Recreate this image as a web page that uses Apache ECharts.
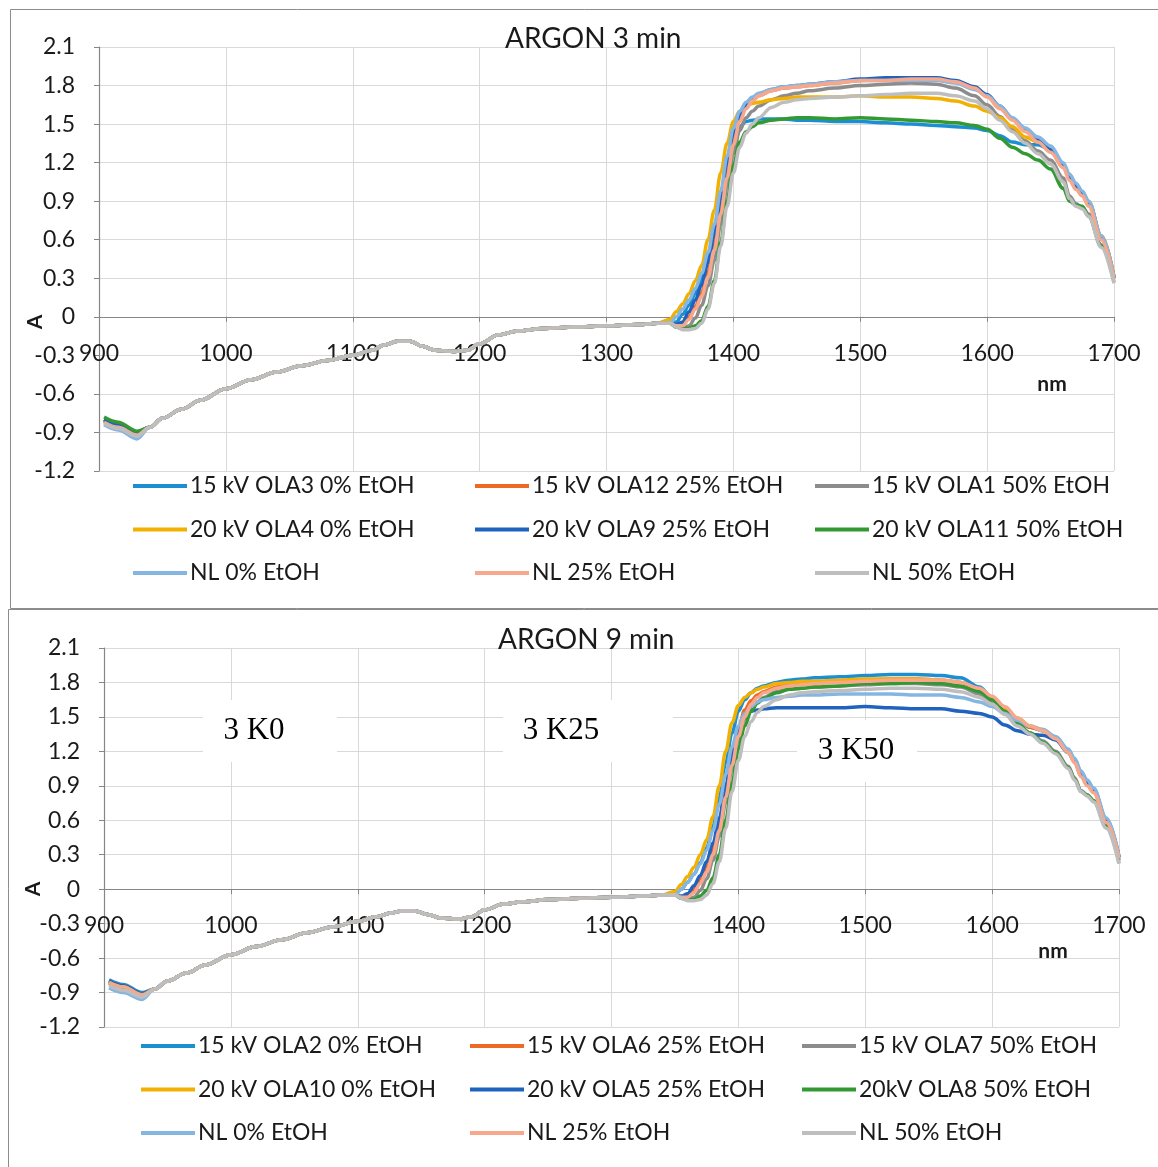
<!DOCTYPE html>
<html>
<head>
<meta charset="utf-8">
<script src="https://cdn.jsdelivr.net/npm/echarts/dist/echarts.min.js"></script>
<style>
  html, body { margin: 0; padding: 0; background: #fff; width: 1158px; height: 1167px; overflow: hidden; }
  #argon3 { position: absolute; left: 0; top: 0; width: 1158px; height: 609px; }
  #argon9 { position: absolute; left: 0; top: 609px; width: 1158px; height: 558px; }
</style>
</head>
<body>
<div id="argon3"></div>
<div id="argon9"></div>
<script>
// Wavelength grid (nm): start of scan, shared baseline, absorption edge and band
const nmHead = [904, 915, 930];
const nmBase = [940, 950, 965, 980, 1000, 1020, 1040, 1060, 1080, 1100, 1115, 1125, 1135, 1145,
  1155, 1165, 1180, 1190, 1200, 1215, 1230, 1250, 1275, 1300, 1325, 1340];
const nmTail = [1350, 1355, 1360, 1365, 1370, 1375, 1380, 1385, 1390, 1395, 1400, 1405, 1410, 1415,
  1420, 1430, 1440, 1450, 1460, 1480, 1500, 1520, 1540, 1560, 1575, 1590, 1600, 1610, 1620, 1630,
  1640, 1650, 1660, 1665, 1670, 1675, 1680, 1690, 1700];

const seriesColors = ['#1b8fd2', '#ee6a24', '#8c8c8c', '#f2b000', '#1f63be', '#339933', '#85b6e2', '#f7a88c', '#bebebe'];

const xTicks = { min: 900, max: 1700, step: 100 };
const yTicks = { min: -1.2, max: 2.1, step: 0.3 };

// ---------- ARGON 3 min ----------
const names3 = ['15 kV OLA3 0% EtOH', '15 kV OLA12 25% EtOH', '15 kV OLA1 50% EtOH',
  '20 kV OLA4 0% EtOH', '20 kV OLA9 25% EtOH', '20 kV OLA11 50% EtOH',
  'NL 0% EtOH', 'NL 25% EtOH', 'NL 50% EtOH'];
const head3 = [
  [-0.80, -0.84, -0.90], [-0.81, -0.85, -0.91], [-0.80, -0.85, -0.91],
  [-0.81, -0.85, -0.91], [-0.80, -0.84, -0.90], [-0.78, -0.82, -0.89],
  [-0.84, -0.88, -0.95], [-0.82, -0.86, -0.92], [-0.83, -0.87, -0.93]];
const base3 = [-0.86, -0.79, -0.72, -0.65, -0.56, -0.49, -0.43, -0.38, -0.34, -0.30, -0.26, -0.22, -0.19, -0.19,
  -0.23, -0.26, -0.27, -0.26, -0.21, -0.14, -0.11, -0.09, -0.08, -0.07, -0.06, -0.05];
const tail3_OLA3 = [-0.05, -0.04, 0.02, 0.09, 0.18, 0.30, 0.45, 0.66, 0.92, 1.18, 1.38, 1.48, 1.52, 1.53,
  1.54, 1.54, 1.54, 1.53, 1.53, 1.52, 1.52, 1.51, 1.50, 1.49, 1.48, 1.47, 1.45, 1.41, 1.36, 1.34,
  1.34, 1.30, 1.17, 1.08, 1.02, 0.97, 0.89, 0.62, 0.30];
const tail3_OLA12 = [-0.05, -0.07, -0.06, 0.00, 0.08, 0.19, 0.35, 0.56, 0.85, 1.13, 1.38, 1.54, 1.63, 1.68,
  1.72, 1.76, 1.78, 1.79, 1.80, 1.82, 1.84, 1.85, 1.85, 1.85, 1.83, 1.78, 1.72, 1.63, 1.54, 1.45,
  1.38, 1.30, 1.17, 1.08, 1.02, 0.97, 0.89, 0.63, 0.31];
const tail3_OLA1 = [-0.05, -0.08, -0.09, -0.07, -0.01, 0.09, 0.24, 0.44, 0.72, 1.01, 1.27, 1.45, 1.55, 1.60,
  1.64, 1.69, 1.72, 1.74, 1.76, 1.78, 1.80, 1.81, 1.82, 1.81, 1.78, 1.72, 1.65, 1.56, 1.46, 1.37,
  1.29, 1.22, 1.08, 0.94, 0.88, 0.85, 0.80, 0.56, 0.27];
const tail3_OLA4 = [-0.02, 0.04, 0.10, 0.18, 0.28, 0.40, 0.60, 0.83, 1.12, 1.35, 1.52, 1.60, 1.64, 1.66,
  1.67, 1.69, 1.70, 1.71, 1.71, 1.71, 1.72, 1.71, 1.71, 1.70, 1.68, 1.64, 1.60, 1.55, 1.48, 1.40,
  1.36, 1.30, 1.17, 1.08, 1.02, 0.97, 0.90, 0.63, 0.31];
const tail3_OLA9 = [-0.05, -0.06, -0.04, 0.04, 0.13, 0.25, 0.42, 0.64, 0.92, 1.20, 1.43, 1.57, 1.65, 1.70,
  1.73, 1.77, 1.79, 1.80, 1.81, 1.83, 1.85, 1.86, 1.86, 1.86, 1.84, 1.79, 1.73, 1.64, 1.54, 1.45,
  1.38, 1.30, 1.17, 1.08, 1.02, 0.97, 0.89, 0.62, 0.30];
const tail3_OLA11 = [-0.05, -0.08, -0.09, -0.09, -0.07, -0.03, 0.08, 0.28, 0.58, 0.90, 1.18, 1.36, 1.44, 1.48,
  1.51, 1.53, 1.54, 1.55, 1.55, 1.54, 1.55, 1.54, 1.53, 1.52, 1.51, 1.49, 1.46, 1.39, 1.32, 1.27,
  1.22, 1.15, 1.00, 0.90, 0.87, 0.86, 0.78, 0.55, 0.31];
const tail3_NL0 = [-0.05, 0.00, 0.06, 0.13, 0.22, 0.34, 0.50, 0.72, 0.98, 1.25, 1.47, 1.60, 1.67, 1.71,
  1.74, 1.77, 1.79, 1.80, 1.81, 1.83, 1.84, 1.84, 1.84, 1.84, 1.82, 1.77, 1.72, 1.64, 1.55, 1.47,
  1.40, 1.33, 1.20, 1.11, 1.04, 0.98, 0.90, 0.63, 0.31];
const tail3_NL25 = [-0.05, -0.07, -0.07, -0.02, 0.06, 0.16, 0.31, 0.52, 0.80, 1.08, 1.34, 1.52, 1.62, 1.68,
  1.72, 1.76, 1.78, 1.79, 1.80, 1.82, 1.84, 1.84, 1.85, 1.85, 1.83, 1.78, 1.71, 1.62, 1.53, 1.44,
  1.36, 1.28, 1.16, 1.06, 0.99, 0.94, 0.86, 0.60, 0.29];
const tail3_NL50 = [-0.05, -0.08, -0.10, -0.10, -0.09, -0.05, 0.06, 0.26, 0.55, 0.86, 1.12, 1.32, 1.43, 1.50,
  1.55, 1.63, 1.67, 1.69, 1.70, 1.71, 1.72, 1.73, 1.74, 1.74, 1.72, 1.68, 1.62, 1.53, 1.44, 1.35,
  1.27, 1.19, 1.05, 0.92, 0.86, 0.84, 0.78, 0.54, 0.26];
const tails3 = [tail3_OLA3, tail3_OLA12, tail3_OLA1, tail3_OLA4, tail3_OLA9, tail3_OLA11, tail3_NL0, tail3_NL25, tail3_NL50];

// ---------- ARGON 9 min ----------
const names9 = ['15 kV OLA2 0% EtOH', '15 kV OLA6 25% EtOH', '15 kV OLA7 50% EtOH',
  '20 kV OLA10 0% EtOH', '20 kV OLA5 25% EtOH', '20kV OLA8 50% EtOH',
  'NL 0% EtOH', 'NL 25% EtOH', 'NL 50% EtOH'];
const head9 = [
  [-0.79, -0.83, -0.90], [-0.80, -0.84, -0.91], [-0.82, -0.86, -0.93],
  [-0.82, -0.86, -0.92], [-0.80, -0.84, -0.91], [-0.81, -0.85, -0.92],
  [-0.86, -0.90, -0.96], [-0.81, -0.85, -0.92], [-0.84, -0.88, -0.94]];
const base9 = [-0.87, -0.80, -0.73, -0.66, -0.57, -0.50, -0.44, -0.38, -0.33, -0.28, -0.24, -0.21, -0.19, -0.19,
  -0.22, -0.25, -0.26, -0.24, -0.18, -0.13, -0.11, -0.09, -0.08, -0.07, -0.06, -0.05];
const tail9_OLA2 = [-0.05, 0.00, 0.06, 0.13, 0.23, 0.36, 0.55, 0.80, 1.10, 1.36, 1.55, 1.65, 1.71, 1.75,
  1.77, 1.80, 1.82, 1.83, 1.84, 1.85, 1.86, 1.87, 1.87, 1.86, 1.84, 1.76, 1.67, 1.57, 1.47, 1.41,
  1.38, 1.32, 1.21, 1.13, 1.02, 0.94, 0.87, 0.61, 0.28];
const tail9_OLA6 = [-0.05, -0.07, -0.06, 0.00, 0.09, 0.20, 0.36, 0.58, 0.88, 1.15, 1.40, 1.56, 1.64, 1.69,
  1.72, 1.76, 1.78, 1.79, 1.80, 1.81, 1.82, 1.83, 1.83, 1.82, 1.80, 1.74, 1.66, 1.57, 1.48, 1.41,
  1.38, 1.31, 1.19, 1.11, 0.99, 0.91, 0.85, 0.59, 0.27];
const tail9_OLA7 = [-0.05, -0.08, -0.09, -0.07, -0.01, 0.09, 0.25, 0.46, 0.75, 1.04, 1.30, 1.48, 1.58, 1.63,
  1.67, 1.72, 1.74, 1.75, 1.76, 1.77, 1.78, 1.79, 1.79, 1.78, 1.76, 1.70, 1.63, 1.53, 1.43, 1.36,
  1.29, 1.20, 1.07, 0.97, 0.86, 0.82, 0.77, 0.55, 0.23];
const tail9_OLA10 = [-0.02, 0.04, 0.11, 0.19, 0.30, 0.43, 0.63, 0.90, 1.20, 1.45, 1.60, 1.67, 1.71, 1.74,
  1.76, 1.79, 1.80, 1.81, 1.81, 1.82, 1.83, 1.83, 1.83, 1.82, 1.80, 1.74, 1.67, 1.58, 1.49, 1.42,
  1.39, 1.32, 1.20, 1.12, 1.00, 0.92, 0.86, 0.60, 0.28];
const tail9_OLA5 = [-0.05, -0.06, -0.04, 0.03, 0.12, 0.24, 0.40, 0.62, 0.90, 1.17, 1.38, 1.50, 1.55, 1.56,
  1.57, 1.58, 1.58, 1.58, 1.58, 1.58, 1.59, 1.58, 1.57, 1.57, 1.55, 1.53, 1.50, 1.43, 1.38, 1.35,
  1.34, 1.30, 1.19, 1.11, 0.99, 0.92, 0.86, 0.60, 0.28];
const tail9_OLA8 = [-0.05, -0.08, -0.09, -0.09, -0.06, -0.01, 0.10, 0.30, 0.60, 0.92, 1.22, 1.42, 1.55, 1.62,
  1.66, 1.71, 1.74, 1.75, 1.76, 1.77, 1.79, 1.79, 1.80, 1.79, 1.77, 1.72, 1.65, 1.55, 1.44, 1.36,
  1.28, 1.19, 1.06, 0.96, 0.85, 0.82, 0.77, 0.56, 0.25];
const tail9_NL0 = [-0.05, 0.00, 0.06, 0.13, 0.22, 0.34, 0.51, 0.74, 1.00, 1.24, 1.42, 1.53, 1.59, 1.63,
  1.65, 1.67, 1.68, 1.69, 1.69, 1.70, 1.70, 1.70, 1.69, 1.69, 1.67, 1.63, 1.59, 1.53, 1.47, 1.42,
  1.39, 1.33, 1.22, 1.14, 1.03, 0.95, 0.88, 0.62, 0.29];
const tail9_NL25 = [-0.05, -0.07, -0.07, -0.03, 0.05, 0.15, 0.30, 0.51, 0.80, 1.08, 1.33, 1.50, 1.61, 1.67,
  1.71, 1.75, 1.77, 1.78, 1.79, 1.80, 1.81, 1.82, 1.82, 1.82, 1.80, 1.75, 1.68, 1.59, 1.49, 1.42,
  1.38, 1.31, 1.19, 1.10, 0.98, 0.90, 0.84, 0.58, 0.27];
const tail9_NL50 = [-0.05, -0.08, -0.10, -0.10, -0.09, -0.05, 0.05, 0.24, 0.53, 0.85, 1.12, 1.33, 1.46, 1.54,
  1.59, 1.65, 1.69, 1.71, 1.72, 1.73, 1.74, 1.75, 1.75, 1.74, 1.72, 1.67, 1.61, 1.52, 1.42, 1.35,
  1.27, 1.18, 1.05, 0.95, 0.85, 0.81, 0.76, 0.53, 0.22];
const tails9 = [tail9_OLA2, tail9_OLA6, tail9_OLA7, tail9_OLA10, tail9_OLA5, tail9_OLA8, tail9_NL0, tail9_NL25, tail9_NL50];

// Sample labels placed on the 9 min chart: white box and the text centre inside it
const annotations9 = [
  { text: '3 K0', box: [203, 91, 134, 62], at: [254, 122] },
  { text: '3 K25', box: [503, 91, 170, 62], at: [561, 122] },
  { text: '3 K50', box: [797, 111, 120, 62], at: [856, 142] }
];

const uiFont = 'Lato, "Open Sans", sans-serif';

function pairs(head, base, tail) {
  const xs = nmHead.concat(nmBase, nmTail);
  const ys = head.concat(base, tail);
  return xs.map((x, i) => [x, ys[i]]);
}

function buildOption(cfg) {
  const series = cfg.names.map((name, i) => ({
    name: name,
    type: 'line',
    data: pairs(cfg.heads[i], cfg.base, cfg.tails[i]),
    showSymbol: false,
    smooth: 0.35,
    smoothMonotone: 'x',
    color: seriesColors[i],
    lineStyle: { width: 3.5, color: seriesColors[i] },
    emphasis: { disabled: true },
    z: 2 + i
  }));

  const legends = [0, 1, 2].map(col => ({
    orient: 'vertical',
    left: cfg.legendLeft[col],
    top: cfg.legendTop,
    padding: 0,
    itemGap: 17.5,
    itemWidth: 54,
    itemHeight: 4,
    icon: 'rect',
    selectedMode: false,
    textStyle: { fontFamily: uiFont, fontSize: 23, color: '#1a1a1a', lineHeight: 26, padding: [0, 0, 0, -2] },
    data: cfg.names.filter((n, i) => i % 3 === col)
  }));

  const graphic = [
    { type: 'rect', silent: true, z: -10,
      shape: { x: cfg.frame[0] + 0.5, y: cfg.frame[1] + 0.5, width: 1400, height: cfg.frame[2] },
      style: { fill: 'none', stroke: '#8c8c8c', lineWidth: 1 } },
    { type: 'text', silent: true, x: cfg.yName[0], y: cfg.yName[1], rotation: Math.PI / 2,
      style: { text: 'A', font: 'bold 21px ' + uiFont, fill: '#1a1a1a', textAlign: 'center', textVerticalAlign: 'middle' } },
    { type: 'text', silent: true, x: cfg.xName[0], y: cfg.xName[1],
      style: { text: 'nm', font: 'bold 21px ' + uiFont, fill: '#1a1a1a', textAlign: 'center', textVerticalAlign: 'middle' } }
  ];
  (cfg.notes || []).forEach(n => {
    graphic.push({ type: 'rect', silent: true, z: 50,
      shape: { x: n.box[0], y: n.box[1], width: n.box[2], height: n.box[3] },
      style: { fill: '#ffffff' } });
    graphic.push({ type: 'text', silent: true, z: 51,
      x: n.at[0], y: n.at[1],
      style: { text: n.text, font: '31px "Liberation Serif", "DejaVu Serif", serif', fill: '#000',
        textAlign: 'center', textVerticalAlign: 'middle' } });
  });

  return {
    animation: false,
    backgroundColor: '#ffffff',
    title: {
      text: cfg.title,
      left: cfg.titlePos[0],
      top: cfg.titlePos[1],
      padding: 0,
      textStyle: { fontFamily: uiFont, fontSize: 28, fontWeight: 'normal', color: '#1a1a1a' }
    },
    grid: { left: cfg.grid[0], top: cfg.grid[1], width: cfg.grid[2], height: cfg.grid[3], containLabel: false },
    xAxis: {
      type: 'value', min: xTicks.min, max: xTicks.max, interval: xTicks.step,
      axisLine: { onZero: false, lineStyle: { color: '#868686', width: 1.2 } },
      axisTick: { show: true, length: 5, lineStyle: { color: '#868686' } },
      axisLabel: { margin: 25, fontFamily: uiFont, fontSize: 23, color: '#1a1a1a', formatter: v => String(v) },
      splitLine: { show: true, lineStyle: { color: '#d9d9d9', width: 1 } }
    },
    yAxis: {
      type: 'value', min: yTicks.min, max: yTicks.max, interval: yTicks.step,
      axisLine: { show: true, onZero: false, lineStyle: { color: '#868686', width: 1.2 } },
      axisTick: { show: true, length: 5, lineStyle: { color: '#868686' } },
      axisLabel: { margin: 24, fontFamily: uiFont, fontSize: 23, color: '#1a1a1a',
        formatter: v => (Math.abs(v) < 1e-9 ? '0' : v.toFixed(1)) },
      splitLine: { show: true, lineStyle: { color: '#d9d9d9', width: 1 } }
    },
    legend: legends,
    graphic: graphic,
    series: series
  };
}

// The wavelength axis (with its labels) sits on A = 0, as in the spreadsheet original
function placeXAxisOnZero(chart, cfg) {
  const zeroY = chart.convertToPixel({ yAxisIndex: 0 }, 0);
  const bottomY = cfg.grid[1] + cfg.grid[3];
  chart.setOption({ xAxis: { offset: zeroY - bottomY } });
}

function draw(id, cfg) {
  const chart = echarts.init(document.getElementById(id), null, { renderer: 'canvas' });
  chart.setOption(buildOption(cfg));
  placeXAxisOnZero(chart, cfg);
  return chart;
}

const cfg3 = {
  title: 'ARGON 3 min', titlePos: [505, 25],
  names: names3, heads: head3, base: base3, tails: tails3,
  grid: [99, 47, 1015, 424],
  legendLeft: [133, 475, 815], legendTop: 473,
  frame: [10, 9, 599],
  yName: [35, 322], xName: [1052, 384]
};
const cfg9 = {
  title: 'ARGON 9 min', titlePos: [498, 17],
  names: names9, heads: head9, base: base9, tails: tails9,
  grid: [104, 39, 1015, 379],
  legendLeft: [141, 470, 802], legendTop: 424,
  frame: [8, 0, 600],
  yName: [33, 280], xName: [1053, 342],
  notes: annotations9
};
draw('argon3', cfg3);
draw('argon9', cfg9);
</script>
</body>
</html>
